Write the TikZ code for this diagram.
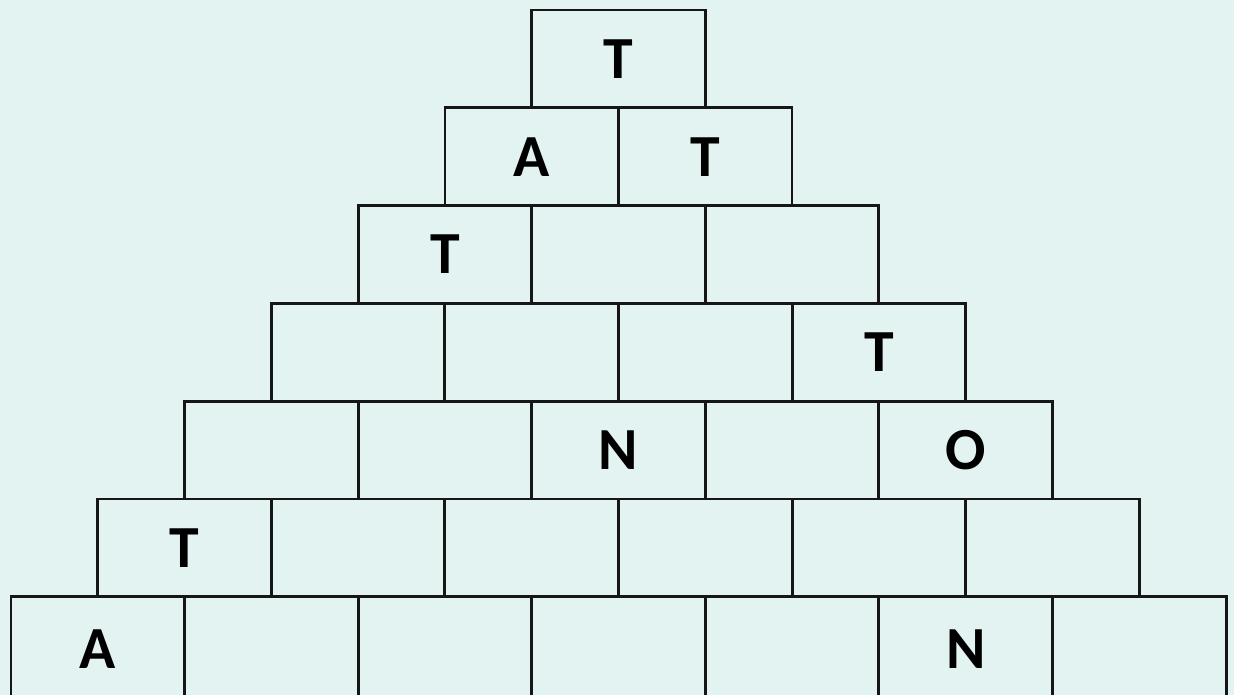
\documentclass[tikz,border=0pt]{standalone}
\usepackage{fontspec}
\setmainfont{Carlito}
\usepackage{xcolor}
\usetikzlibrary{positioning}
\definecolor{paper}{RGB}{226,243,242}
\definecolor{ink}{RGB}{22,22,22}

\begin{document}
\begin{tikzpicture}[x=0.02cm, y=-0.02cm,
  brick/.style={draw=ink, line width=1.6pt, minimum width=3.472cm, inner sep=0pt, outer sep=0pt},
  letter/.style={text=black, font=\fontsize{34}{40}\selectfont\bfseries}]
  \fill[paper] (0,0) rectangle (1234,695);
  \useasboundingbox (0,0) rectangle (1234,695);
  \clip (0,0) rectangle (1234,695);
  % bricks, row by row from the top (the last row runs off the page)
  \foreach \r in {1,...,7}{
    \pgfmathsetmacro\hh{\r==7 ? 115 : 97.8}
    \foreach \c in {1,...,\r}{
      \node[brick, minimum height=\hh*0.02cm] (b-\r-\c) at ({618.5-\r*86.8+(\c-0.5)*173.6}, {10+(\r-1)*97.8+\hh/2}) {};
    }
  }
  % given letters
  \node[letter] (t-1-1) at (b-1-1) {T};
  \node[letter] (t-2-1) at (b-2-1) {A};
  \node[letter] (t-2-2) at (b-2-2) {T};
  \node[letter] (t-3-1) at (b-3-1) {T};
  \node[letter] (t-4-4) at (b-4-4) {T};
  \node[letter] (t-5-3) at (b-5-3) {N};
  \node[letter] (t-5-5) at (b-5-5) {O};
  \node[letter] (t-6-1) at (b-6-1) {T};
  \node[letter] (t-7-1) at ([yshift=0.11cm]b-7-1) {A};
  \node[letter] (t-7-6) at ([yshift=0.11cm]b-7-6) {N};
\end{tikzpicture}
\end{document}
